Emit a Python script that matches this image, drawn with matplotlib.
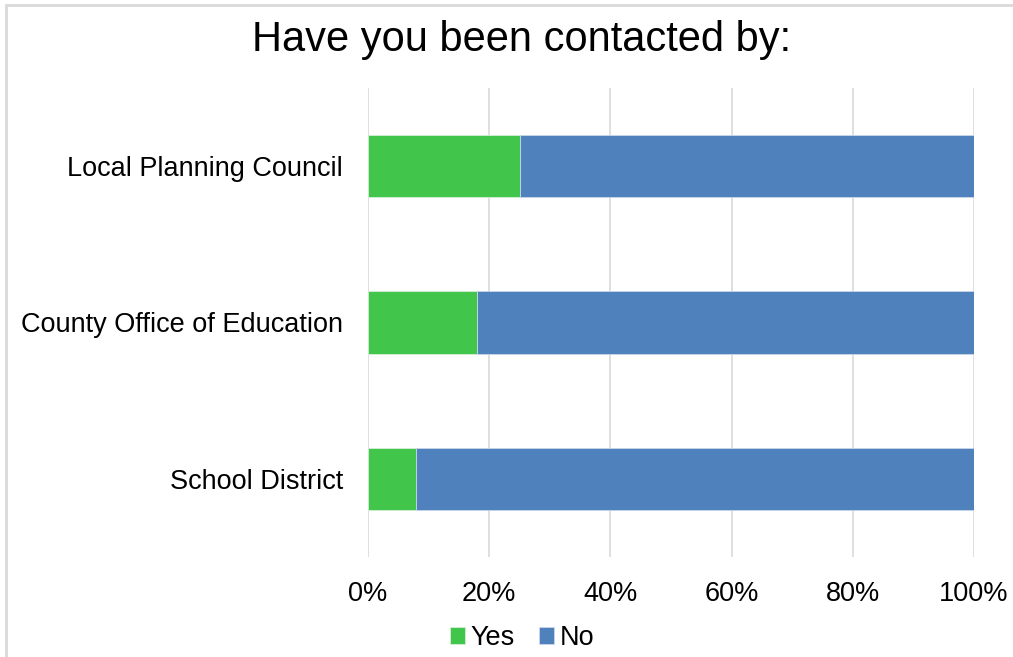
import matplotlib.pyplot as plt
from matplotlib.patches import Rectangle
from matplotlib.ticker import FuncFormatter

plt.rcParams["font.family"] = ["Liberation Sans", "DejaVu Sans"]

categories = ["School District", "County Office of Education", "Local Planning Council"]
yes_pct = [8, 18, 25]
no_pct = [92, 82, 75]

green = "#41c54a"
blue = "#4f81bd"

fig = plt.figure(figsize=(10.13, 6.57), dpi=100)
ax = fig.add_axes([368 / 1013, 1 - 557 / 657, 606 / 1013, 469 / 657])

ypos = range(len(categories))
ax.barh(ypos, yes_pct, height=0.4, color=green, edgecolor="#d6eed8", linewidth=0.6,
        label="Yes", zorder=3)
ax.barh(ypos, no_pct, left=yes_pct, height=0.4, color=blue, edgecolor="#c9d6ea",
        linewidth=0.6, label="No", zorder=3)

ax.set_xlim(0, 100)
ax.set_ylim(-0.5, len(categories) - 0.5)
ax.set_xticks([0, 20, 40, 60, 80, 100])
ax.xaxis.set_major_formatter(FuncFormatter(lambda v, _: f"{v:.0f}%"))
ax.set_yticks(list(ypos))
ax.set_yticklabels(categories)
ax.tick_params(axis="both", length=0, labelsize=19.5, colors="#000000")
ax.tick_params(axis="x", pad=17)
ax.tick_params(axis="y", pad=18)
ax.grid(axis="x", color="#d9d9d9", linewidth=1.2, zorder=0)
for side in ax.spines.values():
    side.set_visible(False)

fig.suptitle("Have you been contacted by:", x=522 / 1013, y=1 - 40 / 657, va="center",
             fontsize=30)

handles, labels = ax.get_legend_handles_labels()
fig.legend(handles, labels, loc="center", bbox_to_anchor=(522 / 1013, 1 - 638 / 657),
           ncol=2, frameon=False, fontsize=19.5, handlelength=0.55, handleheight=0.55,
           handletextpad=0.2, columnspacing=0.9)

# light outer frame like the original chart area
fig.patches.append(Rectangle((6 / 1013, -0.1), 1.2, 1 - 5 / 657 + 0.1,
                             transform=fig.transFigure, fill=False,
                             edgecolor="#d9d9d9", linewidth=2))

fig.savefig("out.png", dpi=100)
